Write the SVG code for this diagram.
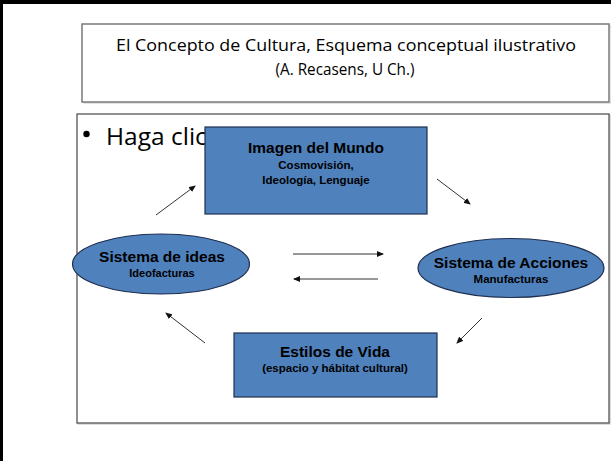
<svg xmlns="http://www.w3.org/2000/svg" width="611" height="461" viewBox="0 0 611 461">
<style>
.blue{fill:#4f81bd;stroke:#1f2f4f;stroke-width:1.2}
.b1{font-family:"Liberation Sans",Arial,sans-serif;font-weight:bold;fill:#000;text-anchor:middle}
.cal{font-family:"Open Sans","Noto Sans",sans-serif;fill:#000}
.conn line{stroke:#333;stroke-width:1;marker-end:url(#ah)}
</style>
<defs>
<marker id="ah" markerWidth="7" markerHeight="6" refX="6" refY="3" orient="auto" markerUnits="userSpaceOnUse">
<path d="M0,0 L7,3 L0,6 Z" fill="#111"/>
</marker>
</defs>
<rect width="611" height="461" fill="#fff"/>
<rect x="0" y="0" width="611" height="4" fill="#000"/>
<rect x="0" y="0" width="3" height="461" fill="#000"/>
<g id="title">
<rect x="83" y="25" width="527" height="77" fill="#fff" stroke="#c8c8c8" stroke-width="1" transform="translate(1,1)"/>
<rect x="82" y="24" width="527" height="78" fill="#fff" stroke="#7a7a7a" stroke-width="1.5"/>
<text class="cal" x="346" y="51" font-size="16.5" text-anchor="middle" textLength="460" lengthAdjust="spacingAndGlyphs">El Concepto de Cultura, Esquema conceptual ilustrativo</text>
<text class="cal" x="345" y="75" font-size="16.5" text-anchor="middle" textLength="139" lengthAdjust="spacingAndGlyphs">(A. Recasens, U Ch.)</text>
</g>
<g id="content">
<rect x="78" y="115" width="532" height="309" fill="none" stroke="#bbbbbb" stroke-width="1"/>
<rect x="77" y="114" width="532" height="309" fill="#fff" stroke="#555" stroke-width="1.3"/>
<circle cx="86.5" cy="134" r="3.2" fill="#000"/>
<text class="cal" x="106" y="145" font-size="24.5">Haga clic</text>
</g>
<g class="conn" id="connectors">
<line x1="156" y1="215" x2="195" y2="186"/>
<line x1="437" y1="179" x2="470" y2="204"/>
<line x1="482" y1="318" x2="457" y2="343"/>
<line x1="205" y1="343" x2="166" y2="313"/>
<line x1="293" y1="254" x2="383" y2="254"/>
<line x1="378" y1="279" x2="294" y2="279"/>
</g>
<g id="imagen">
<rect class="blue" x="205" y="127" width="222" height="87"/>
<text class="b1" x="316" y="153" font-size="15.5">Imagen del Mundo</text>
<text class="b1" x="316" y="169" font-size="11.5">Cosmovisión,</text>
<text class="b1" x="316" y="184" font-size="11.5">Ideología, Lenguaje</text>
</g>
<g id="acciones">
<ellipse class="blue" cx="511" cy="268" rx="93" ry="29.5"/>
<text class="b1" x="511" y="268" font-size="15.5">Sistema de Acciones</text>
<text class="b1" x="511" y="283" font-size="11.5">Manufacturas</text>
</g>
<g id="ideas">
<ellipse class="blue" cx="161" cy="264" rx="88.5" ry="30"/>
<text class="b1" x="162" y="262" font-size="15.5">Sistema de ideas</text>
<text class="b1" x="162" y="277" font-size="11">Ideofacturas</text>
</g>
<g id="estilos">
<rect class="blue" x="234" y="333" width="203" height="64"/>
<text class="b1" x="335" y="357" font-size="15.5">Estilos de Vida</text>
<text class="b1" x="335" y="372" font-size="11.5">(espacio y hábitat cultural)</text>
</g>
</svg>
